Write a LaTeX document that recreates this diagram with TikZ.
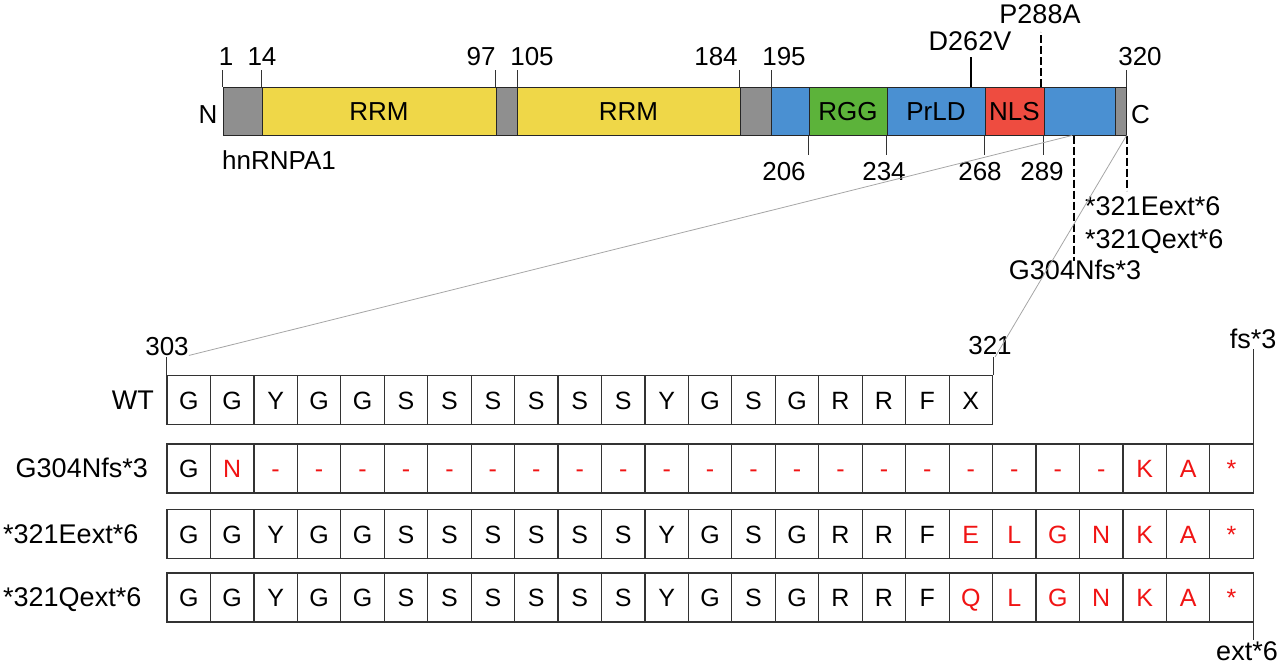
\documentclass[tikz,border=0pt]{standalone}
\usepackage{fontspec}
\setmainfont{Liberation Sans}
\definecolor{dgray}{RGB}{143,143,143}
\definecolor{dyellow}{RGB}{239,215,72}
\definecolor{dblue}{RGB}{74,144,210}
\definecolor{dgreen}{RGB}{92,179,58}
\definecolor{dred}{RGB}{238,76,64}
\definecolor{seqred}{RGB}{240,20,20}
\colorlet{ck}{black}
\colorlet{cr}{seqred}
\begin{document}
\begin{tikzpicture}[x=1pt,y=-1pt,
 seg/.style={draw=black!85, line width=1pt, minimum height=48pt, inner sep=0pt, text height=18pt, text depth=0pt, font=\fontsize{26}{30}\selectfont},
 tick/.style={draw=black!80, line width=1pt},
 mut/.style={draw=black, line width=2pt, dash pattern=on 8pt off 3pt},
 num/.style={font=\fontsize{26}{30}\selectfont, inner sep=0pt, anchor=base},
 lab/.style={font=\fontsize{27}{30}\selectfont, inner sep=0pt, anchor=base},
 cell/.style={draw=black!80, line width=1.2pt, minimum width=43.45pt, minimum height=49pt, inner sep=0pt, text height=18pt, text depth=0pt, font=\fontsize{25}{30}\selectfont},
 zoomline/.style={draw=black!35, line width=0.8pt}]
\useasboundingbox (0,0) rectangle (1280,667);

% domain bar
\foreach \a/\b/\c/\t [count=\i] in {223/262/dgray/, 262/496/dyellow/RRM, 496/517/dgray/, 517/740/dyellow/RRM, 740/771/dgray/, 771/809/dblue/, 809/887/dgreen/RGG, 887/985/dblue/PrLD, 985/1044/dred/NLS, 1044/1115/dblue/, 1115/1126/dgray/}
  \node[seg, fill=\c, minimum width={(\b-\a)*1pt}] (s\i) at ({(\a+\b)/2},111) {\t};

% position labels above
\node[num] (n1) at (226,65) {1};
\node[num] (n14) at (262,65) {14};
\node[num] (n97) at (481,65) {97};
\node[num] (n105) at (532,65) {105};
\node[num] (n184) at (716,65) {184};
\node[num] (n195) at (784,65) {195};
\node[num] (n320) at (1140,65) {320};
\draw[tick] (s1.north west) -- ++(0,-17);
\draw[tick] (s2.north west) -- ++(0,-17);
\draw[tick] (s3.north west) -- ++(0,-17);
\draw[tick] (s3.north east) -- ++(0,-17);
\draw[tick] (s5.north west) -- ++(0,-17);
\draw[tick] (s5.north east) -- ++(0,-17);
\draw[tick] (s11.north east) -- ++(0,-17);

% position labels below
\node[num] (n206) at (784,180) {206};
\node[num] (n234) at (884,180) {234};
\node[num] (n268) at (980,180) {268};
\node[num] (n289) at (1042,180) {289};
\draw[tick] (s7.south west) -- ++(0,19);
\draw[tick] (s8.south west) -- ++(0,19);
\draw[tick] (s9.south west) -- ++(0,19);
\draw[tick] (s10.south west) -- ++(0,19);

\node[num] (N) at (208,123) {N};
\node[num, anchor=base west] (C) at (1131,123) {C};
\node[num, anchor=base west] (name) at (222,169) {hnRNPA1};

% mutations
\node[lab] (d262) at (970,50) {D262V};
\draw[line width=2pt] ([xshift=35pt]s8.north) -- ++(0,-30);
\node[lab] (p288) at (1040,23) {P288A};
\draw[mut] ([xshift=-4pt]s9.north east) -- ++(0,-55);
\node[lab] (g304) at (1075,279) {G304Nfs*3};
\draw[mut] ([xshift=-5.5pt]s10.south) -- ++(0,125);
\node[lab, anchor=base west] (e321) at (1085,215) {*321Eext*6};
\node[lab, anchor=base west] (q321) at (1085,248) {*321Qext*6};
\draw[mut] (s11.south east) -- ++(0,55);

% sequence rows
\foreach \l [count=\i] in {G,G,Y,G,G,S,S,S,S,S,S,Y,G,S,G,R,R,F,X}
  \node[cell] (w\i) at ({167+43.45*(\i-0.5)},400) {\l};
\foreach \l/\c [count=\i] in {G/ck,N/cr,-/cr,-/cr,-/cr,-/cr,-/cr,-/cr,-/cr,-/cr,-/cr,-/cr,-/cr,-/cr,-/cr,-/cr,-/cr,-/cr,-/cr,-/cr,-/cr,-/cr,K/cr,A/cr,*/cr}
  \node[cell, text=\c] (g\i) at ({167+43.45*(\i-0.5)},468.5) {\l};
\foreach \l/\c [count=\i] in {G/ck,G/ck,Y/ck,G/ck,G/ck,S/ck,S/ck,S/ck,S/ck,S/ck,S/ck,Y/ck,G/ck,S/ck,G/ck,R/ck,R/ck,F/ck,E/cr,L/cr,G/cr,N/cr,K/cr,A/cr,*/cr}
  \node[cell, text=\c] (e\i) at ({167+43.45*(\i-0.5)},534) {\l};
\foreach \l/\c [count=\i] in {G/ck,G/ck,Y/ck,G/ck,G/ck,S/ck,S/ck,S/ck,S/ck,S/ck,S/ck,Y/ck,G/ck,S/ck,G/ck,R/ck,R/ck,F/ck,Q/cr,L/cr,G/cr,N/cr,K/cr,A/cr,*/cr}
  \node[cell, text=\c] (q\i) at ({167+43.45*(\i-0.5)},597.5) {\l};

% row labels
\node[lab, anchor=base east] (rwt) at (154,409) {WT};
\node[lab, anchor=base east] (rg) at (148,477) {G304Nfs*3};
\node[lab, anchor=base west] (re) at (3,543) {*321Eext*6};
\node[lab, anchor=base west] (rq) at (3,606) {*321Qext*6};

% sequence position labels
\node[num] (l303) at (167,355) {303};
\node[num] (l321) at (990,354) {321};
\draw[tick] (w1.north west) -- ++(0,-18);
\draw[tick] (w19.north east) -- ++(0,-18) coordinate (t321);
\node[lab] (lfs) at (1253,348) {fs*3};
\draw[tick] (g25.north east) -- ++(0,-94);
\node[lab] (lext) at (1247,660) {ext*6};
\draw[tick] (q25.south east) -- ++(0,17);

% zoom lines
\draw[zoomline] ([xshift=-7.5pt]s10.south) -- (l303.south east);
\draw[zoomline] (s11.south east) -- ([xshift=2pt]t321);
\end{tikzpicture}
\end{document}
